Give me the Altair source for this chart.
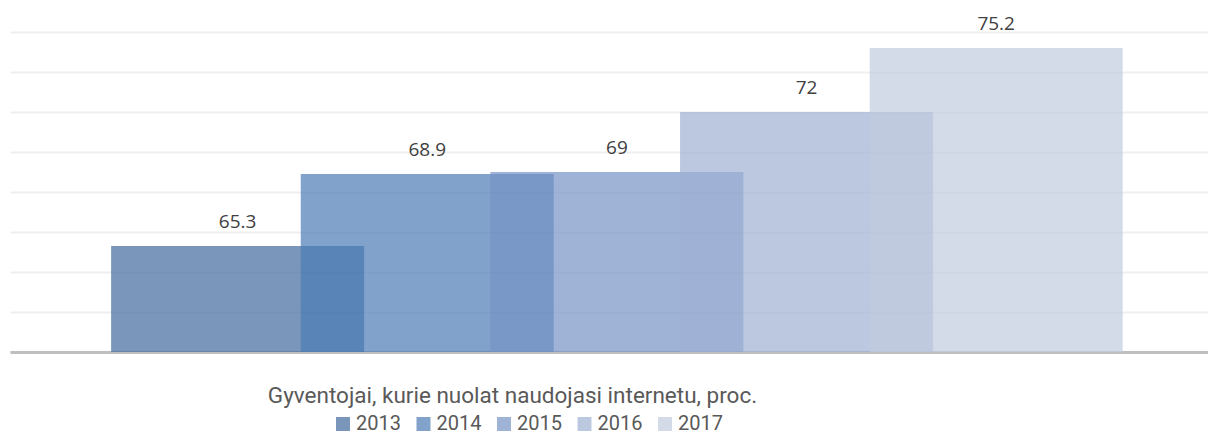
import altair as alt
import pandas as pd

years = [2013, 2014, 2015, 2016, 2017]
values = [65.3, 68.9, 69.0, 72.0, 75.2]
year_labels = ["2013", "2014", "2015", "2016", "2017"]
colors = ["#426a9e", "#4b7cb5", "#7693c5", "#9fb0d3", "#c0cbde"]
grid_values = [60, 62, 64, 66, 68, 70, 72, 74, 76]
title_text = "Gyventojai, kurie nuolat naudojasi internetu, proc."

df = pd.DataFrame({"year": years, "value": values, "label": year_labels})

FONT = "Open Sans"
TFONT = "Roboto"

x_scale = alt.Scale(domain=[2011.8261, 2018.0906], nice=False, zero=False)
y_scale = alt.Scale(domain=[60, 76], nice=False, zero=False)

x_axis = alt.Axis(labels=False, ticks=False, grid=False, domain=True,
                  domainColor="#bfbfbf", domainWidth=3,
                  title=title_text, titleFont=TFONT, titleFontSize=22.5,
                  titleFontWeight="normal", titleColor="#595959",
                  titleX=502, titleY=50, titleAlign="center",
                  titleBaseline="alphabetic", titleAnchor="start")
y_axis = alt.Axis(labels=False, ticks=False, domain=False, title=None,
                  values=grid_values, labelOverlap=False,
                  gridColor="#efefef", gridWidth=2)

bars = alt.Chart(df).mark_bar(width=253, opacity=0.7, clip=True).encode(
    x=alt.X("year:Q", scale=x_scale, axis=x_axis),
    y=alt.Y("value:Q", scale=y_scale, axis=y_axis),
    y2=alt.datum(60),
    color=alt.Color("label:N", scale=alt.Scale(domain=year_labels, range=colors),
                    legend=alt.Legend(title=None, orient="none", direction="horizontal",
                                      legendX=323, legendY=382,
                                      symbolType="square", symbolSize=196,
                                      symbolStrokeWidth=0,
                                      labelFont=TFONT, labelFontSize=20,
                                      labelColor="#595959", labelOffset=3,
                                      columnPadding=12.5, padding=0)),
    order=alt.Order("year:Q"),
)

labels = alt.Chart(df).mark_text(font=FONT, fontSize=19, color="#404040",
                                 baseline="alphabetic", dy=-18).encode(
    x=alt.X("year:Q", scale=x_scale, axis=x_axis),
    y=alt.Y("value:Q", scale=y_scale, axis=y_axis),
    text=alt.Text("value:Q", format="~g"),
)

chart = alt.layer(bars, labels).properties(
    width=1198, height=320,
    autosize=alt.AutoSizeParams(type="none"),
    padding={"left": 2, "top": 24, "right": 0, "bottom": 83},
).configure_view(stroke=None)

chart.save("out.html", embed_options={"renderer": "svg", "actions": False})
